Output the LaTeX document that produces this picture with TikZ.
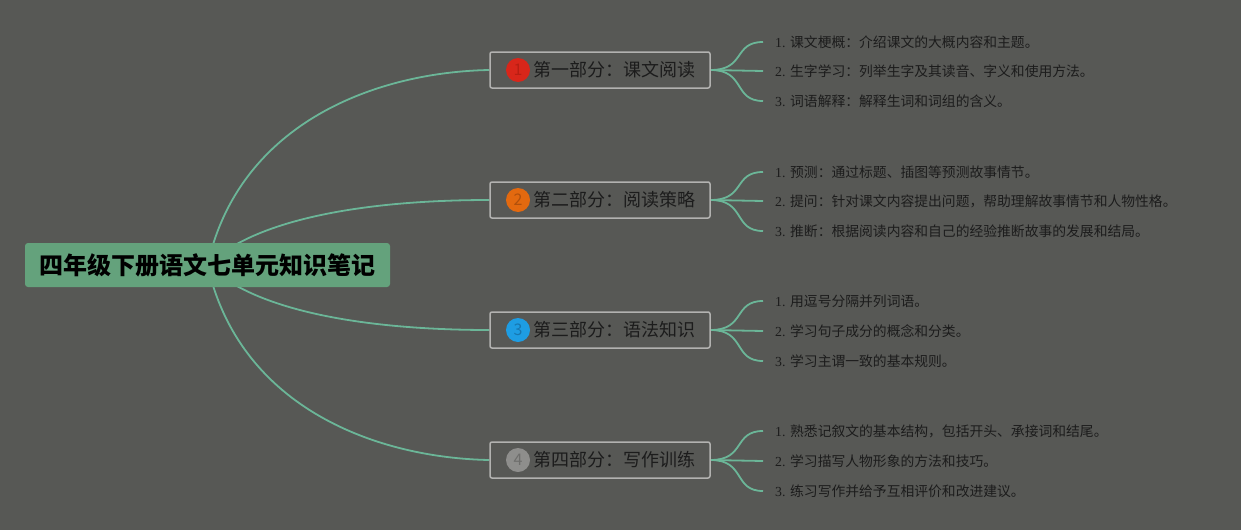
\documentclass[tikz,border=0pt]{standalone}
\usepackage{fontspec}
\setmainfont{Liberation Serif}
\newfontfamily\cjk{Noto Sans CJK SC}
\usepackage{tikz}
\usetikzlibrary{positioning}
\usetikzlibrary{backgrounds}
\usepackage{xcolor}
\definecolor{bgcol}{HTML}{575855}
\definecolor{rootgreen}{HTML}{64A27C}
\definecolor{boxgray}{HTML}{B2B2B0}
\definecolor{textdark}{HTML}{1C1C1C}
\definecolor{linegreen}{HTML}{6BB698}
\definecolor{dotred}{HTML}{D8261A}
\definecolor{dotredtext}{HTML}{B81E12}
\definecolor{dotorange}{HTML}{E3690F}
\definecolor{dotorangetext}{HTML}{B0500C}
\definecolor{dotblue}{HTML}{1E9DE3}
\definecolor{dotbluetext}{HTML}{1777B0}
\definecolor{dotgray}{HTML}{8E8E8C}
\definecolor{dotgraytext}{HTML}{6E6E6C}

\begin{document}
\begin{tikzpicture}[x=1pt, y=-1pt,
	rootbox/.style={fill=rootgreen, rounded corners=3pt, minimum width=365pt, minimum height=44pt, inner sep=0pt, text=black, font=\cjk\bfseries\fontsize{24}{28}\selectfont},
	partbox/.style={draw=boxgray, line width=1.5pt, rounded corners=2pt, minimum width=220pt, minimum height=36pt, inner sep=0pt},
	parttext/.style={anchor=west, inner sep=0pt, text=textdark, font=\cjk\fontsize{18}{22}\selectfont},
	numdot/.style={circle, fill=#1, minimum size=24pt, inner sep=0pt, font=\cjk\fontsize{16}{18}\selectfont},
	leaf/.style={anchor=west, inner xsep=12pt, inner ysep=0pt, text=textdark, font=\fontsize{13.8}{16}\selectfont},
	branch/.style={draw=linegreen, line width=1.8pt},
	] % knowledge notes mind map
	
	\useasboundingbox (0,0) rectangle (1241,530);
	
	%main topic
	\node[rootbox] (root) at (207.5,265) {四年级下册语文七单元知识笔记};
	
	%parts
	\node[partbox] (p1) at (600,70) {};
	\node[numdot=dotred, text=dotredtext] (n1) at (518,70) {1};
	\node[parttext] (t1) at (533,70) {第一部分：课文阅读};
	
	\node[partbox] (p2) at (600,200) {};
	\node[numdot=dotorange, text=dotorangetext] (n2) at (518,200) {2};
	\node[parttext] (t2) at (533,200) {第二部分：阅读策略};
	
	\node[partbox] (p3) at (600,330) {};
	\node[numdot=dotblue, text=dotbluetext] (n3) at (518,330) {3};
	\node[parttext] (t3) at (533,330) {第三部分：语法知识};
	
	\node[partbox] (p4) at (600,460) {};
	\node[numdot=dotgray, text=dotgraytext] (n4) at (518,460) {4};
	\node[parttext] (t4) at (533,460) {第四部分：写作训练};
	
	%leaves
	\node[leaf] (l11) at (763,42) {1. {\cjk 课文梗概：介绍课文的大概内容和主题。}};
	\node[leaf] (l12) at (763,71) {2. {\cjk 生字学习：列举生字及其读音、字义和使用方法。}};
	\node[leaf] (l13) at (763,101) {3. {\cjk 词语解释：解释生词和词组的含义。}};
	
	\node[leaf] (l21) at (763,172) {1. {\cjk 预测：通过标题、插图等预测故事情节。}};
	\node[leaf] (l22) at (763,201) {2. {\cjk 提问：针对课文内容提出问题，帮助理解故事情节和人物性格。}};
	\node[leaf] (l23) at (763,231) {3. {\cjk 推断：根据阅读内容和自己的经验推断故事的发展和结局。}};
	
	\node[leaf] (l31) at (763,301) {1. {\cjk 用逗号分隔并列词语。}};
	\node[leaf] (l32) at (763,331) {2. {\cjk 学习句子成分的概念和分类。}};
	\node[leaf] (l33) at (763,361) {3. {\cjk 学习主谓一致的基本规则。}};
	
	\node[leaf] (l41) at (763,431) {1. {\cjk 熟悉记叙文的基本结构，包括开头、承接词和结尾。}};
	\node[leaf] (l42) at (763,461) {2. {\cjk 学习描写人物形象的方法和技巧。}};
	\node[leaf] (l43) at (763,491) {3. {\cjk 练习写作并给予互相评价和改进建议。}};
	
	\begin{scope}[on background layer]
		%background
		\fill[bgcol] (0,0) rectangle (1241,530);
		
		%main branches
		\draw[branch] (root.center) .. controls (240,120) and (380,72) .. (p1.west);
		\draw[branch] (root.center) .. controls (260,215) and (380,200) .. (p2.west);
		\draw[branch] (root.center) .. controls (260,315) and (380,330) .. (p3.west);
		\draw[branch] (root.center) .. controls (240,410) and (380,458) .. (p4.west);
		
		%sub branches
		\draw[branch] (p1.east) .. controls +(35,0) and +(-30,0) .. (l11.west);
		\draw[branch] (p1.east) -- (l12.west);
		\draw[branch] (p1.east) .. controls +(35,0) and +(-30,0) .. (l13.west);
		
		\draw[branch] (p2.east) .. controls +(35,0) and +(-30,0) .. (l21.west);
		\draw[branch] (p2.east) -- (l22.west);
		\draw[branch] (p2.east) .. controls +(35,0) and +(-30,0) .. (l23.west);
		
		\draw[branch] (p3.east) .. controls +(35,0) and +(-30,0) .. (l31.west);
		\draw[branch] (p3.east) -- (l32.west);
		\draw[branch] (p3.east) .. controls +(35,0) and +(-30,0) .. (l33.west);
		
		\draw[branch] (p4.east) .. controls +(35,0) and +(-30,0) .. (l41.west);
		\draw[branch] (p4.east) -- (l42.west);
		\draw[branch] (p4.east) .. controls +(35,0) and +(-30,0) .. (l43.west);
	\end{scope}
	
\end{tikzpicture}
\end{document}
